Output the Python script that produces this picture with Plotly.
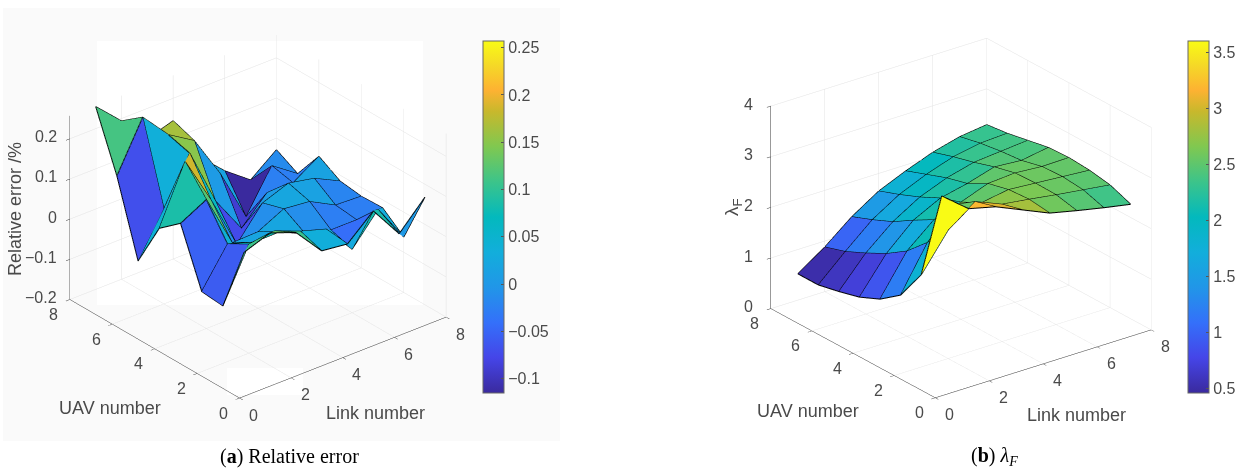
import math
import plotly.graph_objects as go

uav = [1, 2, 3, 4, 5, 6, 7, 8]
link = [1, 2, 3, 4, 5, 6, 7, 8]

rel_err = [
    [0.107, 0.130, 0.106, 0.035, 0.027, 0.084, 0.002, 0.068],
    [-0.057, 0.071, 0.079, 0.053, 0.033, -0.042, 0.032, -0.062],
    [-0.052, 0.041, 0.020, 0.021, -0.009, -0.025, -0.025, -0.020],
    [0.087, 0.121, -0.012, -0.010, 0.022, 0.015, -0.019, -0.022],
    [0.044, 0.185, 0.064, -0.072, 0.006, 0.030, 0.017, -0.015],
    [-0.068, 0.037, 0.150, 0.005, -0.088, -0.024, -0.025, 0.016],
    [0.113, 0.234, 0.165, 0.125, 0.018, -0.115, -0.013, -0.058],
    [0.255, 0.194, 0.124, 0.144, 0.029, -0.031, -0.079, -0.029],
]
lambda_f = [
    [3.60, 3.18, 3.05, 2.82, 2.59, 2.47, 2.36, 2.26],
    [1.82, 2.54, 2.93, 2.71, 2.64, 2.56, 2.49, 2.42],
    [1.20, 2.07, 2.65, 2.52, 2.61, 2.57, 2.53, 2.49],
    [0.90, 1.68, 2.13, 2.31, 2.51, 2.55, 2.51, 2.52],
    [0.72, 1.41, 1.90, 2.17, 2.29, 2.45, 2.41, 2.50],
    [0.61, 1.20, 1.65, 1.97, 2.18, 2.32, 2.37, 2.42],
    [0.52, 1.01, 1.47, 1.80, 2.03, 2.21, 2.31, 2.34],
    [0.52, 0.88, 1.31, 1.65, 1.88, 2.08, 2.22, 2.29],
]

xy_ticks = [0, 2, 4, 6, 8]
xy_labels = ["0", "2", "4", "6", "8"]
za_ticks = [-0.2, -0.1, 0, 0.1, 0.2]
za_labels = ["−0.2", "−0.1", "0", "0.1", "0.2"]
zb_ticks = [0, 1, 2, 3, 4]
zb_labels = ["0", "1", "2", "3", "4"]

PARULA = [
    [0.0, "#3a2a9e"], [0.1, "#4545e8"], [0.2, "#3470fa"], [0.3, "#2196e8"],
    [0.4, "#12aedb"], [0.5, "#03b9bd"], [0.6, "#3cc48a"], [0.7, "#80c850"],
    [0.8, "#c8b82c"], [0.86, "#fdb232"], [0.93, "#f5d827"], [1.0, "#f9fb15"],
]
W, H = 1247, 470
TXT = "#4a4a4a"


def add_surface(fig, z, scene, cmin, cmax, cbx, cbticks, cbtext):
    n, m = len(uav), len(link)
    xs, ys, zs, ii, jj, kk, cell = [], [], [], [], [], [], []
    for a in range(n):
        for b in range(m):
            xs.append(link[b]); ys.append(uav[a]); zs.append(z[a][b])
    for a in range(n - 1):
        for b in range(m - 1):
            p = a * m + b
            ii += [p, p]; jj += [p + 1, p + m + 1]; kk += [p + m + 1, p + m]
            cell += [z[a][b], z[a][b]]
    fig.add_trace(go.Mesh3d(
        x=xs, y=ys, z=zs, i=ii, j=jj, k=kk, intensity=cell, intensitymode="cell",
        colorscale=PARULA, cmin=cmin, cmax=cmax, flatshading=True, scene=scene,
        lighting=dict(ambient=1, diffuse=0, specular=0, fresnel=0, roughness=1),
        hoverinfo="skip",
        colorbar=dict(
            x=cbx / W, xanchor="left", y=1 - 217 / H, yanchor="middle",
            len=352, lenmode="pixels", thickness=21, thicknessmode="pixels",
            tickvals=cbticks, ticktext=cbtext, ticks="inside", ticklen=3,
            tickcolor="#555", outlinecolor="#666", outlinewidth=1, xpad=0, ypad=0,
            tickfont=dict(family="Liberation Sans", size=16, color=TXT),
        ),
    ))
    lx, ly, lz = [], [], []
    for a in range(n):
        lx += link + [None]; ly += [uav[a]] * m + [None]; lz += z[a] + [None]
    for b in range(m):
        lx += [link[b]] * n + [None]; ly += uav + [None]; lz += [z[a][b] for a in range(n)] + [None]
    fig.add_trace(go.Scatter3d(x=lx, y=ly, z=lz, mode="lines", scene=scene,
                               line=dict(color="#000", width=2), hoverinfo="skip", showlegend=False))


fig = go.Figure()
add_surface(fig, rel_err, "scene", -0.115, 0.257, 483,
            [-0.1, -0.05, 0, 0.05, 0.1, 0.15, 0.2, 0.25],
            ["−0.1", "−0.05", "0", "0.05", "0.1", "0.15", "0.2", "0.25"])
add_surface(fig, lambda_f, "scene2", 0.46, 3.6, 1188,
            [0.5, 1, 1.5, 2, 2.5, 3, 3.5], ["0.5", "1", "1.5", "2", "2.5", "3", "3.5"])


def axis(rng, ticks):
    return dict(range=rng, tickvals=ticks, showticklabels=False, title=dict(text=""),
                showbackground=False, showgrid=True, gridcolor="#e2e2e2", gridwidth=1,
                showline=True, linecolor="#333", linewidth=1, ticks="outside", ticklen=5,
                tickcolor="#333", zeroline=False, showspikes=False)


def camera(phi, el, d):
    p, e = math.radians(phi), math.radians(el)
    return dict(eye=dict(x=-d * math.cos(p) * math.cos(e), y=-d * math.sin(p) * math.cos(e), z=d * math.sin(e)),
                center=dict(x=0, y=0, z=0), up=dict(x=0, y=0, z=1),
                projection=dict(type="orthographic"))


def tick_notes(zmin, zticks, zlabels, zshift):
    font = dict(family="Liberation Sans", size=16, color=TXT)
    out = []
    for t, s in zip(xy_ticks, xy_labels):
        out.append(dict(x=0, y=t, z=zmin, text=s, showarrow=False, font=font, xshift=-16, yshift=-15))
        out.append(dict(x=t, y=0, z=zmin, text=s, showarrow=False, font=font, xshift=14, yshift=-17))
    for t, s in zip(zticks, zlabels):
        out.append(dict(x=0, y=8, z=t, text=s, showarrow=False, font=font, xanchor="right",
                        xshift=zshift, yshift=2))
    return out


fig.update_layout(
    width=W, height=H, margin=dict(l=0, r=0, t=0, b=0),
    paper_bgcolor="#ffffff", showlegend=False,
    scene=dict(domain=dict(x=[0, 516 / W], y=[37 / H, 1]),
               xaxis=axis([0, 8], xy_ticks), yaxis=axis([0, 8], xy_ticks),
               zaxis=axis([-0.2, 0.257], za_ticks),
               aspectmode="manual", aspectratio=dict(x=1.235, y=1.235, z=0.965),
               camera=camera(50.6, 28.5, 1.63),
               annotations=tick_notes(-0.2, za_ticks, za_labels, -11)),
    scene2=dict(domain=dict(x=[701 / W, 1221 / W], y=[34 / H, 1]),
                xaxis=axis([0, 8], xy_ticks), yaxis=axis([0, 8], xy_ticks),
                zaxis=axis([0, 4], zb_ticks),
                aspectmode="manual", aspectratio=dict(x=1.245, y=1.245, z=1.02),
                camera=camera(52.7, 24.4, 1.63),
                annotations=tick_notes(0, zb_ticks, zb_labels, -16)),
    shapes=[
        dict(type="rect", xref="paper", yref="paper", x0=3 / W, x1=560 / W, y0=1 - 441 / H, y1=1 - 8 / H,
             fillcolor="#fafafa", line=dict(width=0), layer="below"),
        dict(type="rect", xref="paper", yref="paper", x0=97 / W, x1=423 / W, y0=1 - 305 / H, y1=1 - 41 / H,
             fillcolor="#ffffff", line=dict(width=0), layer="below"),
        dict(type="rect", xref="paper", yref="paper", x0=227 / W, x1=303 / W, y0=1 - 395 / H, y1=1 - 368 / H,
             fillcolor="#ffffff", line=dict(width=0), layer="below"),
    ],
)


def note(text, x, y, size=18, angle=0, family="Liberation Sans", color=TXT):
    fig.add_annotation(text=text, x=x / W, y=1 - y / H, xref="paper", yref="paper", showarrow=False,
                       textangle=angle, xanchor="center", yanchor="middle",
                       font=dict(family=family, size=size, color=color))


note("UAV number", 110, 408)
note("Link number", 375, 413)
note("Relative error /%", 15, 209, angle=-90)
note("UAV number", 808, 411)
note("Link number", 1076, 415)
note("λ<sub>F</sub>", 733, 207, size=19, angle=-90)
note("(<b>a</b>) Relative error", 289, 456, size=20, family="Liberation Serif", color="#000")
note("(<b>b</b>) <i>λ<sub>F</sub></i>", 994, 456, size=20, family="Liberation Serif", color="#000")

fig.write_html("out.html", config=dict(displayModeBar=False),
               post_script="document.body.style.margin='0';")
